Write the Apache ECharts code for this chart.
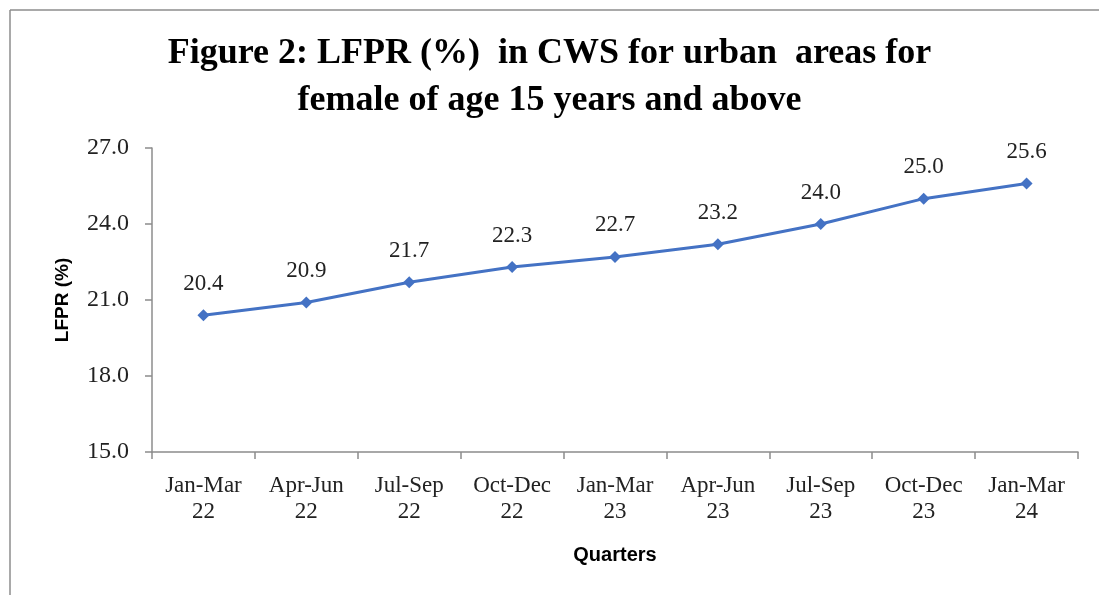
<!DOCTYPE html>
<html>
<head>
<meta charset="utf-8">
<script src="https://cdn.jsdelivr.net/npm/echarts@6/dist/echarts.min.js"></script>
<style>
  html, body { margin: 0; padding: 0; background: #fff; }
  #lfpr-chart { width: 1099px; height: 595px; }
</style>
</head>
<body>
<div id="lfpr-chart"></div>
<script>
// quarters on the x axis
const quarters = ['Jan-Mar\n22', 'Apr-Jun\n22', 'Jul-Sep\n22', 'Oct-Dec\n22', 'Jan-Mar\n23',
                  'Apr-Jun\n23', 'Jul-Sep\n23', 'Oct-Dec\n23', 'Jan-Mar\n24'];
// female LFPR, urban, CWS
const lfpr = [20.4, 20.9, 21.7, 22.3, 22.7, 23.2, 24.0, 25.0, 25.6];
const yMin = 15, yMax = 27, yStep = 3;

const chart = echarts.init(document.getElementById('lfpr-chart'));
const serif = '"Liberation Serif", "Times New Roman", serif';
const sans = '"Liberation Sans", Arial, sans-serif';

chart.setOption({
  backgroundColor: '#fff',
  animation: false,
  title: {
    text: 'Figure 2: LFPR (%)  in CWS for urban  areas for\nfemale of age 15 years and above',
    left: 'center',
    top: 25,
    textStyle: {
      fontFamily: serif,
      fontWeight: 'bold',
      fontSize: 36,
      lineHeight: 47,
      color: '#000'
    }
  },
  graphic: [
    {
      type: 'line',
      shape: { x1: 10, y1: 10, x2: 1099, y2: 10 },
      style: { stroke: '#8c8c8c', lineWidth: 1.5 },
      silent: true
    },
    {
      type: 'line',
      shape: { x1: 10, y1: 10, x2: 10, y2: 595 },
      style: { stroke: '#8c8c8c', lineWidth: 1.5 },
      silent: true
    }
  ],
  grid: {
    left: 152,
    right: 21,
    top: 148,
    bottom: 143
  },
  xAxis: {
    type: 'category',
    data: quarters,
    boundaryGap: true,
    name: 'Quarters',
    nameLocation: 'middle',
    nameGap: 93,
    nameTextStyle: { fontFamily: sans, fontWeight: 'bold', fontSize: 20, color: '#000' },
    axisLine: { lineStyle: { color: '#8c8c8c', width: 1.5 } },
    axisTick: { show: true, length: 7, lineStyle: { color: '#8c8c8c', width: 1.5 } },
    axisLabel: {
      fontFamily: serif,
      fontSize: 23,
      lineHeight: 26,
      color: '#222',
      margin: 21,
      interval: 0
    },
    splitLine: { show: false }
  },
  yAxis: {
    type: 'value',
    min: yMin,
    max: yMax,
    interval: yStep,
    name: 'LFPR (%)',
    nameLocation: 'middle',
    nameRotate: 90,
    nameGap: 80,
    nameTextStyle: { fontFamily: sans, fontWeight: 'bold', fontSize: 19, color: '#000' },
    axisLine: { show: true, lineStyle: { color: '#8c8c8c', width: 1.5 } },
    axisTick: { show: true, length: 7, lineStyle: { color: '#8c8c8c', width: 1.5 } },
    axisLabel: {
      fontFamily: serif,
      fontSize: 24,
      color: '#222',
      margin: 23,
      formatter: v => v.toFixed(1)
    },
    splitLine: { show: false }
  },
  series: [{
    name: 'LFPR',
    type: 'line',
    data: lfpr,
    symbol: 'diamond',
    symbolSize: 12,
    itemStyle: { color: '#4472C4' },
    lineStyle: { color: '#4472C4', width: 3 },
    label: {
      show: true,
      position: 'top',
      distance: 14,
      fontFamily: serif,
      fontSize: 23,
      color: '#222',
      formatter: p => p.value.toFixed(1)
    }
  }]
});
</script>
</body>
</html>
